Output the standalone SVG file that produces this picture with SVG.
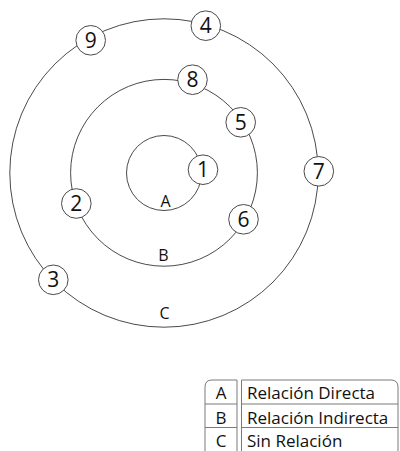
<svg xmlns="http://www.w3.org/2000/svg" width="400" height="451" viewBox="0 0 400 451">
<style>
.ring{fill:none;stroke:#4a4a4a;stroke-width:1}
.node circle{fill:#fff;stroke:#4a4a4a;stroke-width:1}
.node text{font-family:"Open Sans","Noto Sans",sans-serif;font-size:21px;fill:#111;text-anchor:middle}
.lbl{font-family:"Open Sans","Noto Sans",sans-serif;font-size:16px;fill:#111;text-anchor:middle}
.tb{fill:none;stroke:#7a7a7a;stroke-width:1}
.tt{font-family:"Open Sans","Noto Sans",sans-serif;font-size:17px;fill:#111}
</style>
<rect width="400" height="451" fill="#fff"/>
<g id="connectors">
<circle class="ring" cx="164" cy="173" r="37.5"/>
<circle class="ring" cx="164" cy="172.8" r="93.4"/>
<circle class="ring" cx="164" cy="173" r="154.2"/>
</g>
<text class="lbl" x="165.5" y="206.5">A</text>
<text class="lbl" x="163.5" y="260.5">B</text>
<text class="lbl" x="164.5" y="318.5">C</text>
<g id="n9" class="node"><circle cx="90.7" cy="40.3" r="14.8"/><text x="90.7" y="47.8">9</text></g>
<g id="n4" class="node"><circle cx="205.8" cy="25.7" r="14.8"/><text x="205.8" y="33.2">4</text></g>
<g id="n8" class="node"><circle cx="192.5" cy="79.7" r="14.8"/><text x="192.5" y="87.2">8</text></g>
<g id="n5" class="node"><circle cx="240.7" cy="122.3" r="14.8"/><text x="240.7" y="129.8">5</text></g>
<g id="n1" class="node"><circle cx="203" cy="169.7" r="14.8"/><text x="203" y="177.2">1</text></g>
<g id="n7" class="node"><circle cx="318.8" cy="171.3" r="14.8"/><text x="318.8" y="178.8">7</text></g>
<g id="n2" class="node"><circle cx="76.3" cy="203.5" r="14.8"/><text x="76.3" y="211">2</text></g>
<g id="n6" class="node"><circle cx="243.5" cy="219.3" r="14.8"/><text x="243.5" y="226.8">6</text></g>
<g id="n3" class="node"><circle cx="53.3" cy="279.8" r="14.8"/><text x="53.3" y="287.3">3</text></g>
<g id="legend">
<path class="tb" d="M237,380 H212 Q205,380 205,387 V451"/>
<line class="tb" x1="237" y1="380" x2="237" y2="451"/>
<line class="tb" x1="205" y1="404" x2="237" y2="404"/>
<line class="tb" x1="205" y1="427.5" x2="237" y2="427.5"/>
<path class="tb" d="M241.5,451 V380 H391 Q398,380 398,387 V451"/>
<line class="tb" x1="241.5" y1="404" x2="398" y2="404"/>
<line class="tb" x1="241.5" y1="427.5" x2="398" y2="427.5"/>
<text class="tt" x="221" y="399" text-anchor="middle">A</text>
<text class="tt" x="221" y="423.5" text-anchor="middle">B</text>
<text class="tt" x="221" y="447" text-anchor="middle">C</text>
<text class="tt" x="247" y="399">Relación Directa</text>
<text class="tt" x="247" y="423.5">Relación Indirecta</text>
<text class="tt" x="247" y="447">Sin Relación</text>
</g>
</svg>
